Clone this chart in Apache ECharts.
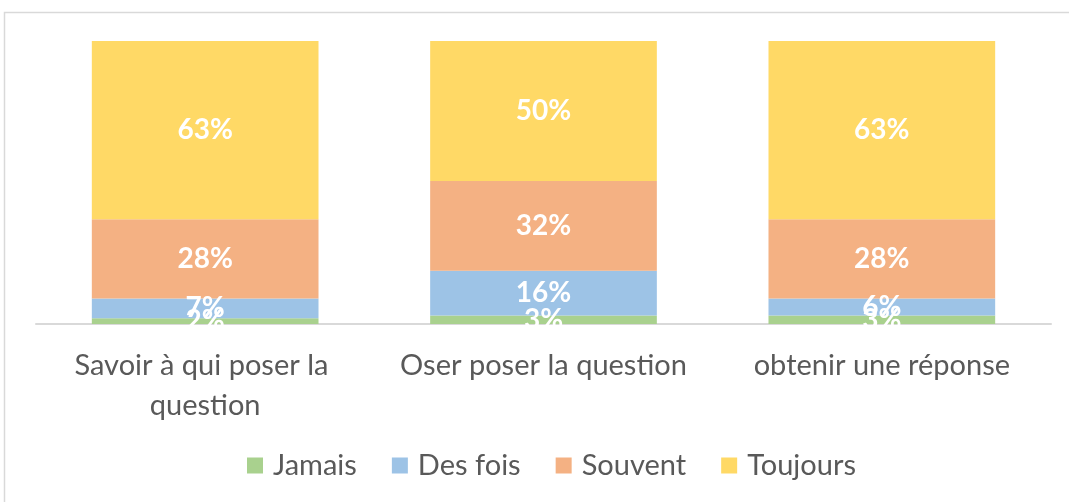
<!DOCTYPE html>
<html>
<head>
<meta charset="utf-8">
<script src="https://cdn.jsdelivr.net/npm/echarts@6/dist/echarts.min.js"></script>
<style>
  html, body { margin: 0; padding: 0; background: #fff; }
  #chart { width: 1069px; height: 502px; }
</style>
</head>
<body>
<div id="chart"></div>
<script>
// data
var categories = ['Savoir à qui poser la question', 'Oser poser la question', 'obtenir une réponse'];
var jamais   = [2, 3, 3];
var desFois  = [7, 16, 6];
var souvent  = [28, 32, 28];
var toujours = [63, 50, 63];

var seriesNames = ['Jamais', 'Des fois', 'Souvent', 'Toujours'];
var seriesColors = ['#a9d18e', '#9dc3e6', '#f4b183', '#ffd966'];
var raw = [jamais, desFois, souvent, toujours];

// 100% stacked: each column is scaled to its own total
var totals = categories.map(function(c, i) {
    return raw.reduce(function(s, arr) { return s + arr[i]; }, 0);
});

var font = 'Lato, "Open Sans", sans-serif';

var chart = echarts.init(document.getElementById('chart'));

var series = raw.map(function(arr, k) {
    return {
        name: seriesNames[k],
        type: 'bar',
        stack: 'total',
        barCategoryGap: '33%',
        itemStyle: { color: seriesColors[k] },
        label: {
            show: true,
            position: 'inside',
            color: '#fff',
            fontFamily: font,
            fontWeight: 'bold',
            fontSize: 28,
            formatter: function(p) { return arr[p.dataIndex] + '%'; }
        },
        data: arr.map(function(v, i) { return v / totals[i] * 100; })
    };
});

chart.setOption({
    animation: false,
    color: seriesColors,
    graphic: [{
        type: 'rect',
        shape: { x: 4.5, y: 12.5, width: 1080, height: 500 },
        style: { fill: 'none', stroke: '#d9d9d9', lineWidth: 1.5 },
        silent: true
    }],
    grid: { left: 36, right: 18, top: 41, bottom: 178 },
    legend: {
        bottom: 17,
        left: 242,
        itemWidth: 16,
        itemHeight: 16,
        itemGap: 35,
        icon: 'rect',
        textStyle: { color: '#595959', fontSize: 29, fontFamily: font, padding: [0, 0, 0, 5] },
        data: seriesNames
    },
    xAxis: {
        type: 'category',
        data: categories,
        axisLine: { lineStyle: { color: '#d9d9d9', width: 2 } },
        axisTick: { show: false },
        axisLabel: {
            color: '#595959',
            fontSize: 29,
            fontFamily: font,
            lineHeight: 40,
            margin: 22,
            interval: 0,
            width: 310,
            overflow: 'break'
        }
    },
    yAxis: {
        type: 'value',
        min: 0,
        max: 100,
        show: false
    },
    series: series
});
</script>
</body>
</html>
